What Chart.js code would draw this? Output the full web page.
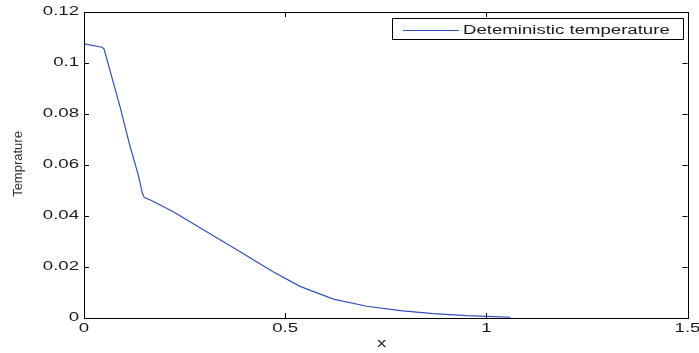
<!DOCTYPE html>
<html>
<head>
<meta charset="utf-8">
<script src="https://cdn.jsdelivr.net/npm/chart.js@4/dist/chart.umd.min.js"></script>
<style>
  html, body { margin: 0; padding: 0; background: #fff; }
  #wrap { width: 699px; height: 353px; }
</style>
</head>
<body>
<div id="wrap"><canvas id="chart" width="699" height="353"></canvas></div>
<script>
// temperature profile along x
const xValues = [0, 0.045, 0.05, 0.07, 0.09, 0.113, 0.135, 0.145, 0.15, 0.165, 0.222, 0.305, 0.388, 0.471, 0.537, 0.62, 0.703, 0.786, 0.868, 0.951, 1.0, 1.06];
const temperature = [0.1075, 0.1062, 0.1055, 0.094, 0.0826, 0.0682, 0.056, 0.049, 0.0472, 0.0463, 0.0417, 0.0338, 0.026, 0.018, 0.0124, 0.0074, 0.0046, 0.0029, 0.0017, 0.0009, 0.0006, 0.0003];

const xTicks = [0, 0.5, 1, 1.5];
const xTickLabels = ["0", "0.5", "1", "1.5"];
const yTicks = [0, 0.02, 0.04, 0.06, 0.08, 0.1, 0.12];
const yTickLabels = ["0", "0.02", "0.04", "0.06", "0.08", "0.1", "0.12"];

const seriesLabel = "Deteministic temperature";
const xTitle = "x";
const yTitle = "Temprature";

const LINE_COLOR = "#2f4fbf";
const TEXT_COLOR = "#1a1a1a";
const FONT = "12px 'Liberation Sans', Arial, sans-serif";
const STRETCH = 1.55; // wide labels

function wideText(ctx, text, x, y, align) {
  ctx.save();
  ctx.translate(x, y);
  ctx.scale(STRETCH, 1);
  ctx.textAlign = align;
  ctx.fillText(text, 0, 0);
  ctx.restore();
}

// axes box, inward ticks, labels and the boxed legend
const matlabAxes = {
  id: "matlabAxes",
  afterDraw(chart) {
    const { ctx, chartArea: a, scales } = chart;
    const xs = scales.x, ys = scales.y;
    const tick = 5;
    ctx.save();
    ctx.strokeStyle = "#000";
    ctx.lineWidth = 1;
    ctx.strokeRect(Math.round(a.left) + 0.5, Math.round(a.top) + 0.5,
      Math.round(a.right - a.left), Math.round(a.bottom - a.top));

    ctx.beginPath();
    xTicks.forEach((v) => {
      const px = Math.round(xs.getPixelForValue(v)) + 0.5;
      ctx.moveTo(px, a.bottom); ctx.lineTo(px, a.bottom - tick);
      ctx.moveTo(px, a.top); ctx.lineTo(px, a.top + tick);
    });
    yTicks.forEach((v) => {
      const py = Math.round(ys.getPixelForValue(v)) + 0.5;
      ctx.moveTo(a.left, py); ctx.lineTo(a.left + tick, py);
      ctx.moveTo(a.right, py); ctx.lineTo(a.right - tick, py);
    });
    ctx.stroke();

    ctx.fillStyle = TEXT_COLOR;
    ctx.font = FONT;
    ctx.textBaseline = "middle";
    yTicks.forEach((v, i) => {
      wideText(ctx, yTickLabels[i], a.left - 5, ys.getPixelForValue(v), "right");
    });
    xTicks.forEach((v, i) => {
      wideText(ctx, xTickLabels[i], xs.getPixelForValue(v), a.bottom + 11, "center");
    });
    wideText(ctx, xTitle, (a.left + a.right) / 2 - 4, a.bottom + 26, "center");

    ctx.save();
    ctx.font = "13px 'Liberation Sans', Arial, sans-serif";
    ctx.fillStyle = "#333";
    ctx.translate(18, (a.top + a.bottom) / 2 - 1);
    ctx.rotate(-Math.PI / 2);
    ctx.textAlign = "center";
    ctx.fillText(yTitle, 0, 0);
    ctx.restore();

    // legend
    const lx = 392, ly = 18, lw = 291, lh = 21;
    ctx.fillStyle = "#fff";
    ctx.fillRect(lx, ly, lw, lh);
    ctx.strokeStyle = "#000";
    ctx.strokeRect(lx + 0.5, ly + 0.5, lw, lh);
    ctx.strokeStyle = LINE_COLOR;
    ctx.beginPath();
    ctx.moveTo(403, 30.5); ctx.lineTo(459, 30.5);
    ctx.stroke();
    ctx.fillStyle = TEXT_COLOR;
    wideText(ctx, seriesLabel, 463, 30.5, "left");
    ctx.restore();
  },
};

new Chart(document.getElementById("chart"), {
  type: "scatter",
  data: {
    datasets: [{
      label: seriesLabel,
      data: xValues.map((x, i) => ({ x, y: temperature[i] })),
      showLine: true,
      borderColor: LINE_COLOR,
      borderWidth: 1.2,
      pointRadius: 0,
      tension: 0,
    }],
  },
  options: {
    responsive: false,
    animation: false,
    devicePixelRatio: 1,
    layout: { padding: { left: 84, top: 12, right: 11.5, bottom: 35 } },
    scales: {
      x: { type: "linear", min: 0, max: 1.5, display: false },
      y: { type: "linear", min: 0, max: 0.12, display: false },
    },
    plugins: { legend: { display: false }, tooltip: { enabled: false } },
  },
  plugins: [matlabAxes],
});
</script>
</body>
</html>
